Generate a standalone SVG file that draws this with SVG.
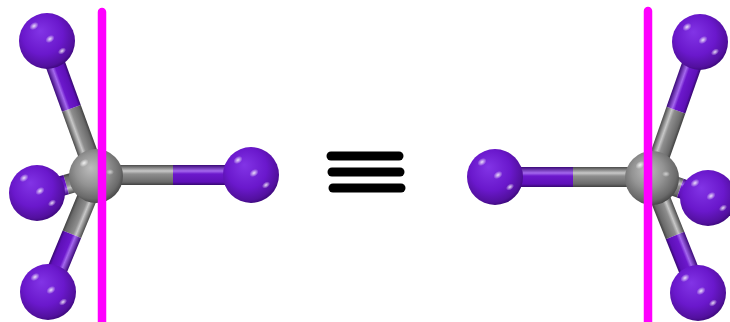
<svg xmlns="http://www.w3.org/2000/svg" xmlns:xlink="http://www.w3.org/1999/xlink" width="730" height="322" viewBox="0 0 730 322">
  <defs>
    <style>
      .plane { stroke: #ff00ff; stroke-width: 8.5; stroke-linecap: round; fill: none; }
      .bar { stroke: #000000; stroke-width: 9; stroke-linecap: round; }
    </style>
    <!-- sphere shading -->
    <radialGradient id="gradI" cx="0.45" cy="0.42" r="0.6" fx="0.38" fy="0.32">
      <stop offset="0" stop-color="#8234e6"/>
      <stop offset="0.6" stop-color="#6a18cc"/>
      <stop offset="0.9" stop-color="#52109e"/>
      <stop offset="1" stop-color="#3a0878"/>
    </radialGradient>
    <radialGradient id="gradC" cx="0.45" cy="0.42" r="0.6" fx="0.4" fy="0.35">
      <stop offset="0" stop-color="#bcbcbc"/>
      <stop offset="0.5" stop-color="#939393"/>
      <stop offset="0.85" stop-color="#6a6a6a"/>
      <stop offset="1" stop-color="#444444"/>
    </radialGradient>
    <radialGradient id="gradSpec">
      <stop offset="0" stop-color="#ffffff" stop-opacity="0.85"/>
      <stop offset="1" stop-color="#ffffff" stop-opacity="0"/>
    </radialGradient>
    <!-- cylinder shading across the bond width -->
    <linearGradient id="bondC" x1="0" y1="0" x2="0" y2="1">
      <stop offset="0" stop-color="#4a4a4a"/>
      <stop offset="0.3" stop-color="#c8c8c8"/>
      <stop offset="0.45" stop-color="#8e8e8e"/>
      <stop offset="0.85" stop-color="#6a6a6a"/>
      <stop offset="1" stop-color="#404040"/>
    </linearGradient>
    <linearGradient id="bondI" x1="0" y1="0" x2="0" y2="1">
      <stop offset="0" stop-color="#3a0878"/>
      <stop offset="0.3" stop-color="#a468ee"/>
      <stop offset="0.45" stop-color="#6c18cc"/>
      <stop offset="0.85" stop-color="#5e10b8"/>
      <stop offset="1" stop-color="#360870"/>
    </linearGradient>
    <!-- atom templates centred on the origin -->
    <g id="atomI">
      <circle r="28" fill="url(#gradI)"/>
      <ellipse cx="-13" cy="-15" rx="5" ry="3.5" fill="url(#gradSpec)" transform="rotate(-35 -13 -15)"/>
      <ellipse cx="3" cy="-2" rx="5" ry="3.5" fill="url(#gradSpec)" transform="rotate(-35 3 -2)"/>
      <ellipse cx="15" cy="10" rx="4.5" ry="3" fill="url(#gradSpec)" transform="rotate(-35 15 10)"/>
    </g>
    <g id="atomC">
      <circle r="27" fill="url(#gradC)"/>
      <ellipse cx="-12" cy="-13" rx="5" ry="3.5" fill="url(#gradSpec)" transform="rotate(-35 -12 -13)"/>
      <ellipse cx="14" cy="-4" rx="4" ry="3" fill="url(#gradSpec)" opacity="0.7"/>
    </g>
  </defs>

  <rect width="730" height="322" fill="#ffffff"/>

  <!-- left CI4 -->
  <g id="molecule-left">
    <g id="bonds-left">
      <g transform="translate(96,176) rotate(-110)">
        <rect x="0" y="-10" width="72" height="20" fill="url(#bondC)"/>
        <rect x="72" y="-10" width="72" height="20" fill="url(#bondI)"/>
      </g>
      <g transform="translate(96,176) rotate(112.5)">
        <rect x="0" y="-10" width="63" height="20" fill="url(#bondC)"/>
        <rect x="63" y="-10" width="63" height="20" fill="url(#bondI)"/>
      </g>
      <g transform="translate(96,176) rotate(164)">
        <rect x="0" y="-10" width="31" height="20" fill="url(#bondC)"/>
        <rect x="31" y="-10" width="31" height="20" fill="url(#bondI)"/>
      </g>
      <g transform="translate(96,175)">
        <rect x="0" y="-10" width="77" height="20" fill="url(#bondC)"/>
        <rect x="77" y="-10" width="77" height="20" fill="url(#bondI)"/>
      </g>
    </g>
    <g id="C-left"><use xlink:href="#atomC" transform="translate(96,176)"/></g>
    <g id="I-left-top"><use xlink:href="#atomI" transform="translate(47,41)"/></g>
    <g id="I-left-mid"><use xlink:href="#atomI" transform="translate(37,193)"/></g>
    <g id="I-left-bot"><use xlink:href="#atomI" transform="translate(48,292)"/></g>
    <g id="I-left-right"><use xlink:href="#atomI" transform="translate(251,175)"/></g>
    <line id="plane-left" class="plane" x1="102" y1="12" x2="102" y2="330"/>
  </g>

  <!-- equivalence sign -->
  <g id="equiv">
    <line class="bar" x1="331" y1="156" x2="399" y2="156"/>
    <line class="bar" x1="332" y1="172" x2="400" y2="172"/>
    <line class="bar" x1="333" y1="188" x2="401" y2="188"/>
  </g>

  <!-- right CI4 -->
  <g id="molecule-right">
    <g id="bonds-right">
      <g transform="translate(652,178) rotate(-70.6)">
        <rect x="0" y="-10" width="72" height="20" fill="url(#bondC)"/>
        <rect x="72" y="-10" width="72" height="20" fill="url(#bondI)"/>
      </g>
      <g transform="translate(652,178) rotate(68.2)">
        <rect x="0" y="-10" width="62" height="20" fill="url(#bondC)"/>
        <rect x="62" y="-10" width="62" height="20" fill="url(#bondI)"/>
      </g>
      <g transform="translate(652,178) rotate(19.6)">
        <rect x="0" y="-10" width="30" height="20" fill="url(#bondC)"/>
        <rect x="30" y="-10" width="30" height="20" fill="url(#bondI)"/>
      </g>
      <g transform="translate(495,177)">
        <rect x="0" y="-10" width="78" height="20" fill="url(#bondI)"/>
        <rect x="78" y="-10" width="79" height="20" fill="url(#bondC)"/>
      </g>
    </g>
    <g id="C-right"><use xlink:href="#atomC" transform="translate(652,178)"/></g>
    <g id="I-right-left"><use xlink:href="#atomI" transform="translate(495,177)"/></g>
    <g id="I-right-top"><use xlink:href="#atomI" transform="translate(700,42)"/></g>
    <g id="I-right-mid"><use xlink:href="#atomI" transform="translate(708,198)"/></g>
    <g id="I-right-bot"><use xlink:href="#atomI" transform="translate(698,293)"/></g>
    <line id="plane-right" class="plane" x1="648" y1="11" x2="648" y2="330"/>
  </g>
</svg>
